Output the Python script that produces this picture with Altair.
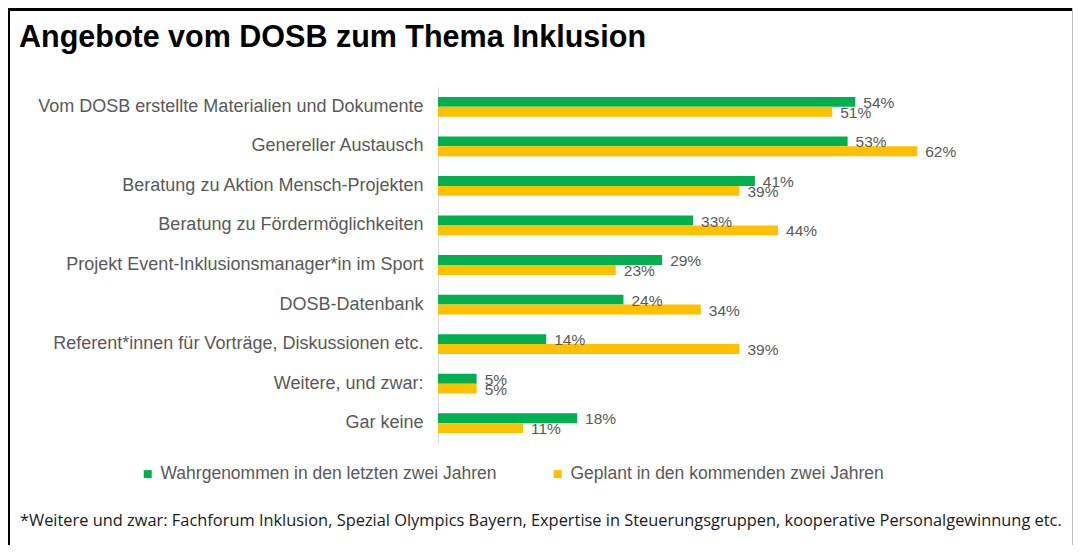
import altair as alt
import pandas as pd

categories = [
    "Vom DOSB erstellte Materialien und Dokumente",
    "Genereller Austausch",
    "Beratung zu Aktion Mensch-Projekten",
    "Beratung zu Fördermöglichkeiten",
    "Projekt Event-Inklusionsmanager*in im Sport",
    "DOSB-Datenbank",
    "Referent*innen für Vorträge, Diskussionen etc.",
    "Weitere, und zwar:",
    "Gar keine",
]
wahrgenommen = [54, 53, 41, 33, 29, 24, 14, 5, 18]
geplant = [51, 62, 39, 44, 23, 34, 39, 5, 11]
series = ["Wahrgenommen in den letzten zwei Jahren", "Geplant in den kommenden zwei Jahren"]
colors = ["#00B050", "#FFC000"]
title_text = "Angebote vom DOSB zum Thema Inklusion"
footnote = ("*Weitere und zwar: Fachforum Inklusion, Spezial Olympics Bayern, "
            "Expertise in Steuerungsgruppen, kooperative Personalgewinnung etc.")

rows = []
for c, w, g in zip(categories, wahrgenommen, geplant):
    rows.append({"category": c, "series": series[0], "value": w, "label": f"{w}%"})
    rows.append({"category": c, "series": series[1], "value": g, "label": f"{g}%"})
df = pd.DataFrame(rows)

FONT = "Liberation Sans"
GRAY = "#595959"

base = alt.Chart(df).encode(
    y=alt.Y(
        "category:N",
        sort=categories,
        scale=alt.Scale(paddingInner=0.5, paddingOuter=0.25),
        axis=alt.Axis(
            title=None, ticks=False, labelFontSize=18, labelColor=GRAY,
            labelFont=FONT, labelPadding=15, domainColor="#D9D9D9", labelLimit=0,
        ),
    ),
    yOffset=alt.YOffset("series:N", sort=series),
    x=alt.X("value:Q", scale=alt.Scale(domain=[0, 70]), axis=None),
)

bars = base.mark_bar().encode(
    color=alt.Color(
        "series:N",
        sort=series,
        scale=alt.Scale(domain=series, range=colors),
        legend=alt.Legend(
            title=None, orient="none", legendX=-299, legendY=378,
            direction="horizontal", symbolType="square", symbolSize=64,
            symbolStrokeWidth=0, labelFontSize=17.5, labelColor=GRAY,
            labelFont=FONT, columnPadding=52, labelOffset=4, labelLimit=0,
        ),
    )
)

labels = base.mark_text(
    align="left", baseline="middle", dx=8, dy=1, fontSize=15.5, color=GRAY, font=FONT
).encode(text="label:N")

one = pd.DataFrame({"t": [title_text], "f": [footnote]})

title = alt.Chart(one).mark_text(
    align="left", baseline="alphabetic", fontSize=30.5, fontWeight="bold",
    color="black", font=FONT,
).encode(text="t:N", x=alt.value(-419), y=alt.value(-40))

foot = alt.Chart(one).mark_text(
    align="left", baseline="middle", fontSize=16.4, color="#1A1A1A", font="Open Sans"
).encode(text="f:N", x=alt.value(-418), y=alt.value(434))

frame_top = alt.Chart(one).mark_rule(color="black", strokeWidth=3).encode(
    x=alt.value(-430), x2=alt.value(635), y=alt.value(-77.5)
)
frame_left = alt.Chart(one).mark_rule(color="black", strokeWidth=2).encode(
    x=alt.value(-429), y=alt.value(-79), y2=alt.value(458)
)
frame_right = alt.Chart(one).mark_rule(color="#BFBFBF", strokeWidth=1).encode(
    x=alt.value(634.5), y=alt.value(-79), y2=alt.value(458)
)

chart = (
    alt.layer(bars, labels, title, foot, frame_top, frame_left, frame_right)
    .properties(
        width=541,
        height=356,
        autosize="none",
        padding={"left": 430, "top": 79, "right": 94, "bottom": 102},
        background="white",
    )
    .configure_view(stroke=None)
)

chart.save("out.html", embed_options={"renderer": "svg", "actions": False})
